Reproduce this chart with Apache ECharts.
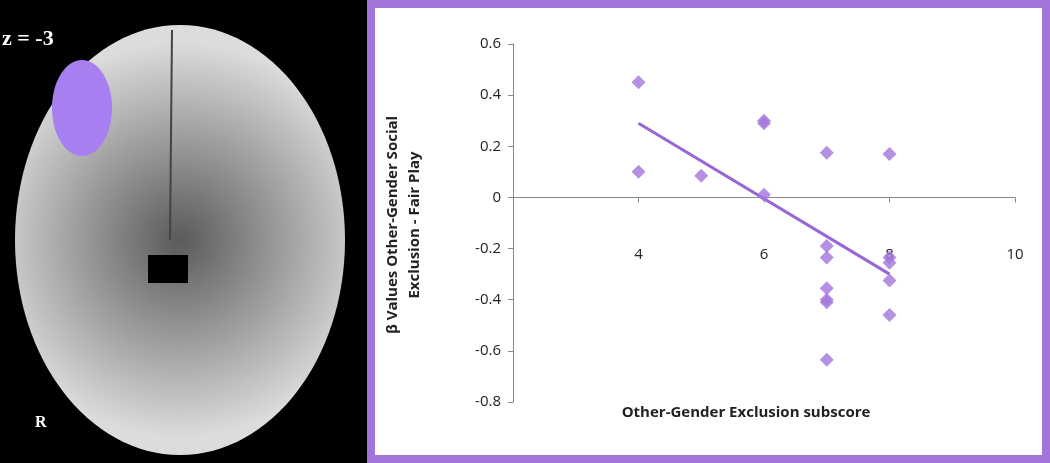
<!DOCTYPE html>
<html>
<head>
<meta charset="utf-8">
<script src="https://cdn.jsdelivr.net/npm/echarts@6/dist/echarts.min.js"></script>
<style>
  html, body { margin: 0; padding: 0; background: #000; }
  #root { width: 1050px; height: 463px; }
</style>
</head>
<body>
<div id="root"></div>
<script>
// scatter data
const scoreX = [4, 4, 5, 6, 6, 6, 7, 7, 7, 7, 7, 7, 7, 8, 8, 8, 8, 8]
const betaY = [0.45, 0.10, 0.085, 0.30, 0.29, 0.01, 0.175, -0.19, -0.235, -0.355, -0.40, -0.41, -0.635, 0.17, -0.235, -0.255, -0.325, -0.46]
const trendX = [4, 8]
const trendY = [0.29, -0.30]

const points = scoreX.map((x, i) => [x, betaY[i]])
const trend = trendX.map((x, i) => [x, trendY[i]])

const chart = echarts.init(document.getElementById('root'))

const option = {
  backgroundColor: '#000',
  animation: false,
  graphic: [
    // right panel frame
    { type: 'rect', shape: { x: 367, y: 0, width: 683, height: 463 }, style: { fill: '#a174d9' }, z: -10 },
    { type: 'rect', shape: { x: 375, y: 8, width: 667, height: 447 }, style: { fill: '#fff' }, z: -9 },
    // rough brain slice
    { type: 'ellipse', shape: { cx: 180, cy: 240, rx: 165, ry: 215 },
      style: { fill: new echarts.graphic.RadialGradient(0.5, 0.5, 0.6, [
        { offset: 0, color: '#5a5a5a' }, { offset: 0.6, color: '#a8a8a8' }, { offset: 1, color: '#dcdcdc' }]) }, z: -8 },
    { type: 'rect', shape: { x: 148, y: 255, width: 40, height: 28 }, style: { fill: '#000' }, z: -7 },
    { type: 'line', shape: { x1: 172, y1: 30, x2: 170, y2: 240 }, style: { stroke: '#444', lineWidth: 2 }, z: -7 },
    { type: 'ellipse', shape: { cx: 82, cy: 108, rx: 30, ry: 48 }, style: { fill: '#a77ff0' }, z: -6 },
    { type: 'text', left: 2, top: 28, style: { text: 'z = -3', fill: '#fff', font: 'bold 22px "Liberation Serif"' } },
    { type: 'text', left: 35, top: 415, style: { text: 'R', fill: '#fff', font: 'bold 16px "Liberation Serif"' } },
    // axis titles
    { type: 'text', x: 404, y: 225, rotation: Math.PI / 2, style: {
        text: 'β Values Other-Gender Social\nExclusion - Fair Play', fill: '#222', align: 'center', verticalAlign: 'middle',
        font: 'bold 15px "Open Sans"', lineHeight: 22 } },
    { type: 'text', x: 746, y: 413, style: {
        text: 'Other-Gender Exclusion subscore', fill: '#222', align: 'center', verticalAlign: 'middle',
        font: 'bold 15px "Open Sans"' } }
  ],
  grid: { left: 513, right: 35, top: 44, bottom: 61, outerBoundsMode: 'none', containLabel: false },
  xAxis: {
    type: 'value', min: 2, max: 10, interval: 2,
    axisLine: { onZero: true, lineStyle: { color: '#888' } },
    axisTick: { show: true, inside: false, length: 5, lineStyle: { color: '#888' } },
    axisLabel: { fontFamily: 'Open Sans', fontSize: 15, color: '#222', margin: -155,
      formatter: v => (v === 2 ? '' : v) },
    splitLine: { show: false }
  },
  yAxis: {
    type: 'value', min: -0.8, max: 0.6, interval: 0.2,
    axisLine: { show: true, lineStyle: { color: '#888' } },
    axisTick: { show: true, length: 5, lineStyle: { color: '#888' } },
    axisLabel: { fontFamily: 'Open Sans', fontSize: 15, color: '#222', margin: 12,
      formatter: v => (Math.abs(v) < 1e-9 ? '0' : v.toFixed(1)) },
    splitLine: { show: false }
  },
  series: [
    { type: 'line', data: trend, symbol: 'none', lineStyle: { color: '#9966d6', width: 3 }, z: 2 },
    { type: 'scatter', data: points, symbol: 'diamond', symbolSize: 14, itemStyle: { color: '#a274dc' }, z: 3 }
  ]
}
chart.setOption(option)
</script>
</body>
</html>
